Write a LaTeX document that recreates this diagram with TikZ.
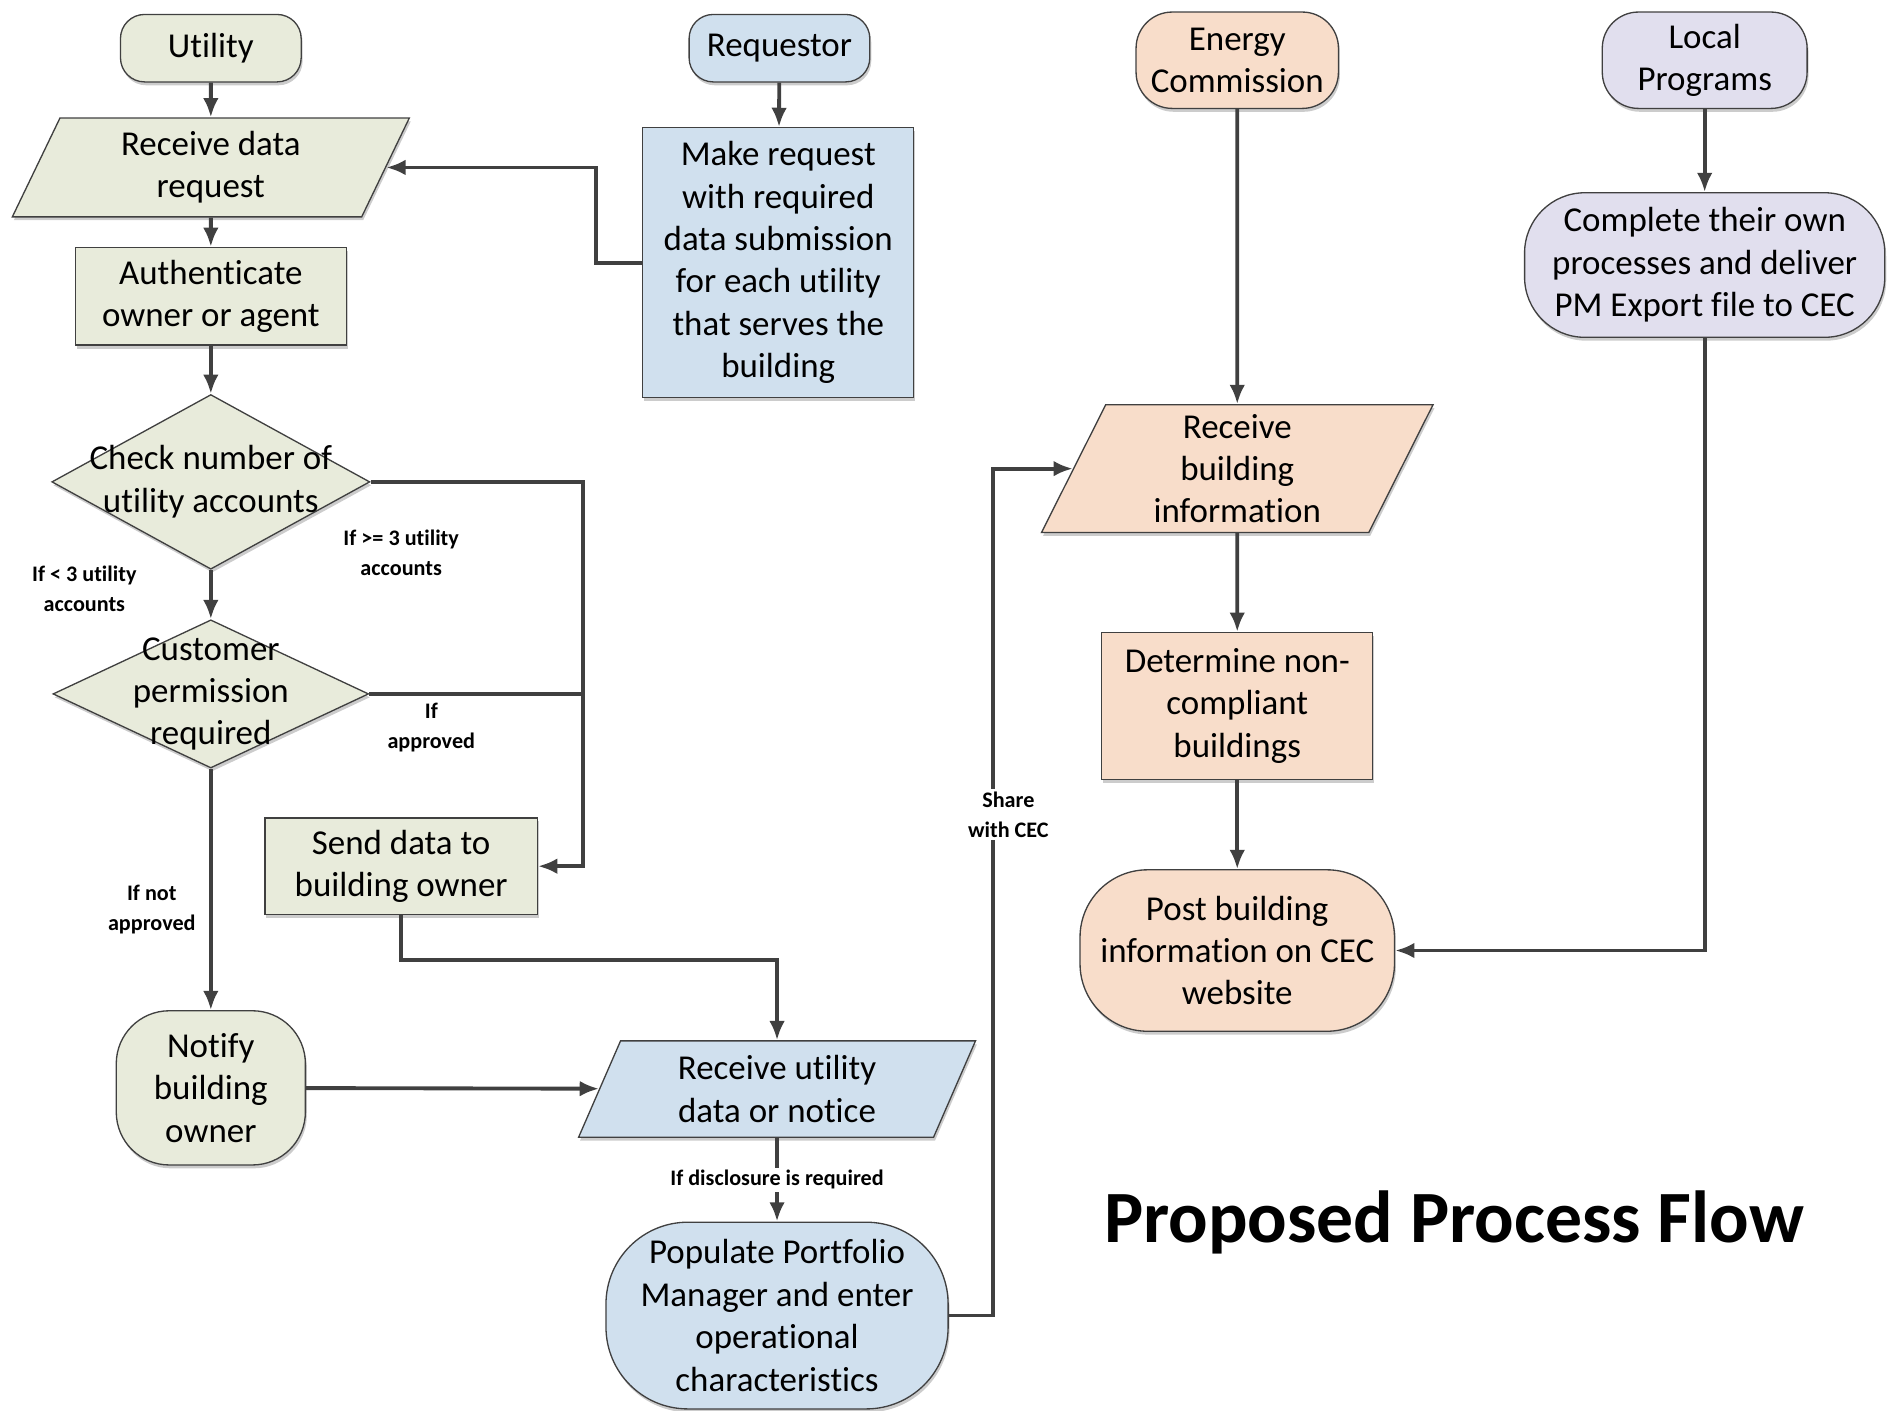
\documentclass[tikz,border=0pt]{standalone}
\usepackage{fontspec}
\setmainfont{Carlito}[Ligatures=NoCommon]
\usetikzlibrary{shapes.geometric}
\usetikzlibrary{arrows.meta}
\usetikzlibrary{shadows}

\definecolor{utilFill}{RGB}{232,235,219}
\definecolor{reqFill}{RGB}{208,224,238}
\definecolor{cecFill}{RGB}{248,221,202}
\definecolor{localFill}{RGB}{225,223,238}
\definecolor{lineGray}{RGB}{64,64,64}

\begin{document}
\begin{tikzpicture}
[x=0.5pt,y=-0.5pt,%
  shapeDecorate/.style={draw=lineGray,line width=0.55pt,align=center,inner sep=2pt,%
    font=\fontsize{14.5}{17.6}\selectfont,%
    drop shadow={shadow xshift=0.6pt,shadow yshift=-1.4pt,fill=black,opacity=0.2}},%
  termDecorate/.style={shapeDecorate,rectangle,rounded corners=#1},%
  boxDecorate/.style={shapeDecorate,rectangle},%
  ioDecorate/.style={shapeDecorate,trapezium,trapezium left angle=70,trapezium right angle=110,%
    trapezium stretches=true},%
  decideDecorate/.style={shapeDecorate,diamond,inner sep=0pt},%
  decideText/.style={align=center,font=\fontsize{14.5}{17.6}\selectfont},%
  lineDecorate/.style={draw=lineGray,line width=1.6pt},%
  arrowDecorate/.style={lineDecorate,-{Latex[length=8pt,width=6.5pt]}},%
  tagDecorate/.style={align=center,inner sep=1pt,font=\fontsize{9.2}{12.4}\selectfont\bfseries}]
\useasboundingbox (0,0) rectangle (1568,1171);

%% utility column
\node[termDecorate=10pt,fill=utilFill,minimum width=75pt,minimum height=28pt] (utility) at (175,40) {Utility};
\node[ioDecorate,fill=utilFill,minimum width=165pt,minimum height=41pt] (receiveRequest) at (175,139) {Receive data\\request};
\node[boxDecorate,fill=utilFill,minimum width=112.5pt,minimum height=40.5pt] (authenticate) at (175,246) {Authenticate\\owner or agent};
\node[decideDecorate,fill=utilFill,minimum width=132pt,minimum height=72.5pt,%
  label={[decideText]center:Check number of\\utility accounts}] (checkAccounts) at (175,400) {};
\node[decideDecorate,fill=utilFill,minimum width=131pt,minimum height=61.5pt,%
  label={[decideText]center:Customer\\permission\\required}] (permission) at (175,576) {};
\node[boxDecorate,fill=utilFill,minimum width=113pt,minimum height=40pt] (sendData) at (333,719) {Send data to\\building owner};
\node[termDecorate=22pt,fill=utilFill,minimum width=78.5pt,minimum height=64pt] (notifyOwner) at (175,903) {Notify\\building\\owner};

%% requestor column
\node[termDecorate=10pt,fill=reqFill,minimum width=75pt,minimum height=28pt] (requestor) at (647,40) {Requestor};
\node[boxDecorate,fill=reqFill,minimum width=112.5pt,minimum height=112pt] (makeRequest) at (646,218) {Make request\\with required\\data submission\\for each utility\\that serves the\\building};
\node[ioDecorate,fill=reqFill,minimum width=165pt,minimum height=40pt] (receiveData) at (645,904) {Receive utility\\data or notice};
\node[termDecorate=34pt,fill=reqFill,minimum width=142pt,minimum height=77.5pt] (populate) at (645,1092) {Populate Portfolio\\Manager and enter\\operational\\characteristics};

%% energy commission column
\node[termDecorate=15pt,fill=cecFill,minimum width=84pt,minimum height=40pt] (commission) at (1027,50) {Energy\\Commission};
\node[ioDecorate,fill=cecFill,minimum width=162.5pt,minimum height=53pt] (receiveBuilding) at (1027,389) {Receive\\building\\information};
\node[boxDecorate,fill=cecFill,minimum width=112.5pt,minimum height=61pt] (nonCompliant) at (1027,586) {Determine non-\\compliant\\buildings};
\node[termDecorate=28pt,fill=cecFill,minimum width=130.5pt,minimum height=67pt] (postInfo) at (1027,789) {Post building\\information on CEC\\website};

%% local programs column
\node[termDecorate=15pt,fill=localFill,minimum width=85pt,minimum height=40pt] (localPrograms) at (1415,50) {Local\\Programs};
\node[termDecorate=25pt,fill=localFill,minimum width=149.5pt,minimum height=60pt] (completeOwn) at (1415,220) {Complete their own\\processes and deliver\\PM Export file to CEC};

%% title
\node[font=\fontsize{30.6}{36}\selectfont\bfseries] (title) at (1207,1015) {Proposed Process Flow};

%% junction columns
\coordinate (joinX) at (484,0);
\coordinate (shareX) at (824,0);

%% connectors
\path
(utility) edge[arrowDecorate] (receiveRequest)
(receiveRequest) edge[arrowDecorate] (authenticate)
(authenticate) edge[arrowDecorate] (checkAccounts)
(checkAccounts) edge[arrowDecorate] (permission)
(permission) edge[arrowDecorate] (notifyOwner)
(requestor) edge[arrowDecorate] (makeRequest)
(notifyOwner) edge[arrowDecorate] (receiveData)
(commission) edge[arrowDecorate] (receiveBuilding)
(receiveBuilding) edge[arrowDecorate] (nonCompliant)
(nonCompliant) edge[arrowDecorate] (postInfo)
(localPrograms) edge[arrowDecorate] (completeOwn);
\draw[arrowDecorate] (makeRequest.west) -- ++(-38,0) |- (receiveRequest.east);
\draw[arrowDecorate] (checkAccounts.east) -- (checkAccounts.east -| joinX) |- (sendData.east);
\draw[lineDecorate] (permission.east) -- (permission.east -| joinX);
\draw[arrowDecorate] (sendData.south) -- ++(0,37) -| (receiveData.north);
\draw[arrowDecorate] (receiveData.south) -- node[fill=white,tagDecorate] (disclosureTag) {If disclosure is required} (populate.north);
\draw[arrowDecorate] (populate.east) -- (populate.east -| shareX) |- (receiveBuilding.west);
\draw[arrowDecorate] (completeOwn.south) |- (postInfo.east);

%% connector labels
\node[tagDecorate] (fewTag) at (70,489) {If < 3 utility\\accounts};
\node[tagDecorate] (manyTag) at (333,459) {If >= 3 utility\\accounts};
\node[tagDecorate] (approvedTag) at (358,604) {If\\approved};
\node[tagDecorate] (notApprovedTag) at (126,755) {If not\\approved};
\node[tagDecorate,fill=white] (shareTag) at (837,676) {Share\\with CEC};
\end{tikzpicture}
\end{document}
